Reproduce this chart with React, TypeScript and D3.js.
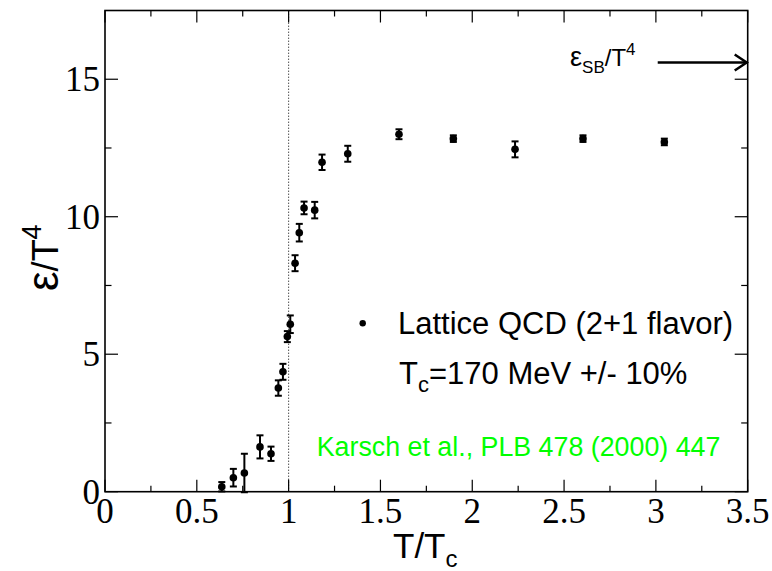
import React from 'react';
import * as d3 from 'd3';

// Lattice QCD (2+1 flavor) energy density, Karsch et al.
const tOverTc = [0.636, 0.699, 0.759, 0.844, 0.904, 0.944, 0.969, 0.993, 1.009, 1.035, 1.058, 1.084, 1.142, 1.182, 1.322, 1.601, 1.897, 2.233, 2.603, 3.046];
const epsOverT4 = [0.18, 0.51, 0.68, 1.63, 1.38, 3.77, 4.36, 5.64, 6.09, 8.31, 9.42, 10.32, 10.24, 11.98, 12.29, 13.0, 12.84, 12.45, 12.84, 12.72];
const epsErr = [0.17, 0.32, 0.7, 0.42, 0.26, 0.28, 0.29, 0.2, 0.32, 0.29, 0.32, 0.23, 0.3, 0.28, 0.29, 0.18, 0.12, 0.29, 0.12, 0.12];

const sbLimit = 15.61;
const sbArrowFrom = 3.01;
const tcLine = 1;

const xMajor = [0, 0.5, 1, 1.5, 2, 2.5, 3, 3.5];
const xLabels = ['0', '0.5', '1', '1.5', '2', '2.5', '3', '3.5'];
const xMinor = [0.25, 0.75, 1.25, 1.75, 2.25, 2.75, 3.25];
const yMajor = [0, 5, 10, 15];
const yLabels = ['0', '5', '10', '15'];
const yMinor = [2.5, 7.5, 12.5];

const W = 772;
const H = 571;
const M = { top: 10.5, right: 24.3, bottom: 79.3, left: 105 };
const SANS = '"Liberation Sans", Arial, sans-serif';
const SERIF = '"Liberation Serif", "Times New Roman", serif';

export default function App() {
  const x = d3.scaleLinear().domain([0, 3.5]).range([M.left, W - M.right]);
  const y = d3.scaleLinear().domain([0, 17.5]).range([H - M.bottom, M.top]);
  const [x0, x1] = x.range();
  const [y0, y1] = y.range();

  const pts = tOverTc.map((t, i) => ({ t, e: epsOverT4[i], err: epsErr[i] }));
  const capW = 3.5;

  const arrowY = y(sbLimit);
  const arrowX1 = x(3.5);

  return (
    <svg width={W} height={H} style={{ position: 'absolute', left: 0, top: 0, background: '#fff' }}>
      {/* Tc dotted line */}
      <line x1={x(tcLine)} x2={x(tcLine)} y1={y0} y2={y1} stroke="#000" strokeWidth={1} strokeDasharray="1,2" />

      {/* frame */}
      <rect x={x0} y={y1} width={x1 - x0} height={y0 - y1} fill="none" stroke="#000" strokeWidth={1.6} />

      {/* x ticks bottom + top */}
      {xMajor.map(v => (
        <g key={'xm' + v}>
          <line x1={x(v)} x2={x(v)} y1={y0} y2={y0 - 12} stroke="#000" strokeWidth={1.2} />
          <line x1={x(v)} x2={x(v)} y1={y1} y2={y1 + 12} stroke="#000" strokeWidth={1.2} />
        </g>
      ))}
      {xMinor.map(v => (
        <g key={'xn' + v}>
          <line x1={x(v)} x2={x(v)} y1={y0} y2={y0 - 6} stroke="#000" strokeWidth={1.2} />
          <line x1={x(v)} x2={x(v)} y1={y1} y2={y1 + 6} stroke="#000" strokeWidth={1.2} />
        </g>
      ))}
      {/* y ticks left + right */}
      {yMajor.map(v => (
        <g key={'ym' + v}>
          <line x1={x0} x2={x0 + 13} y1={y(v)} y2={y(v)} stroke="#000" strokeWidth={1.2} />
          <line x1={x1} x2={x1 - 13} y1={y(v)} y2={y(v)} stroke="#000" strokeWidth={1.2} />
        </g>
      ))}
      {yMinor.map(v => (
        <g key={'yn' + v}>
          <line x1={x0} x2={x0 + 6.5} y1={y(v)} y2={y(v)} stroke="#000" strokeWidth={1.2} />
          <line x1={x1} x2={x1 - 6.5} y1={y(v)} y2={y(v)} stroke="#000" strokeWidth={1.2} />
        </g>
      ))}

      {/* tick labels */}
      {xMajor.map((v, i) => (
        <text key={'xl' + v} x={x(v)} y={523} textAnchor="middle" fontFamily={SERIF} fontSize={35}>{xLabels[i]}</text>
      ))}
      {yMajor.map((v, i) => (
        <text key={'yl' + v} x={100} y={y(v) + 12} textAnchor="end" fontFamily={SERIF} fontSize={35}>{yLabels[i]}</text>
      ))}

      {/* axis titles */}
      <text x={393} y={558} fontFamily={SANS} fontSize={35}>
        T/T<tspan fontSize={24} dy={9}>c</tspan>
      </text>
      <text transform="translate(58,291) rotate(-90)" fontFamily={SANS} fontSize={36}>
        <tspan fontSize={44}>ε</tspan>/T<tspan fontSize={27} dy={-17}>4</tspan>
      </text>

      {/* data with error bars */}
      {pts.map((p, i) => (
        <g key={'p' + i}>
          <line x1={x(p.t)} x2={x(p.t)} y1={y(p.e - p.err)} y2={y(p.e + p.err)} stroke="#000" strokeWidth={2} />
          <line x1={x(p.t) - capW} x2={x(p.t) + capW} y1={y(p.e - p.err)} y2={y(p.e - p.err)} stroke="#000" strokeWidth={2} />
          <line x1={x(p.t) - capW} x2={x(p.t) + capW} y1={y(p.e + p.err)} y2={y(p.e + p.err)} stroke="#000" strokeWidth={2} />
          <circle cx={x(p.t)} cy={y(p.e)} r={3.8} fill="#000" />
        </g>
      ))}

      {/* Stefan-Boltzmann limit arrow */}
      <line x1={x(sbArrowFrom)} x2={arrowX1 - 1} y1={arrowY} y2={arrowY} stroke="#000" strokeWidth={2.5} />
      <polyline points={`${arrowX1 - 13},${arrowY - 8} ${arrowX1 - 1},${arrowY} ${arrowX1 - 13},${arrowY + 8}`} fill="none" stroke="#000" strokeWidth={2.5} />
      <text x={570} y={66} fontFamily={SANS} fontSize={24}>
        <tspan fontSize={27}>ε</tspan><tspan fontSize={17} dy={7}>SB</tspan><tspan dy={-7}>/T</tspan><tspan fontSize={17} dy={-11}>4</tspan>
      </text>

      {/* legend */}
      <circle cx={362.7} cy={323.3} r={3.2} fill="#000" />
      <text x={398} y={334} fontFamily={SANS} fontSize={31}>Lattice QCD (2+1 flavor)</text>
      <text x={399} y={384} fontFamily={SANS} fontSize={31}>
        T<tspan fontSize={22} dy={8}>c</tspan><tspan dy={-8}>=170 MeV +/- 10%</tspan>
      </text>
      <text x={316.7} y={455.7} fontFamily={SANS} fontSize={26.8} fill="#00ff00">Karsch et al., PLB 478 (2000) 447</text>
    </svg>
  );
}
